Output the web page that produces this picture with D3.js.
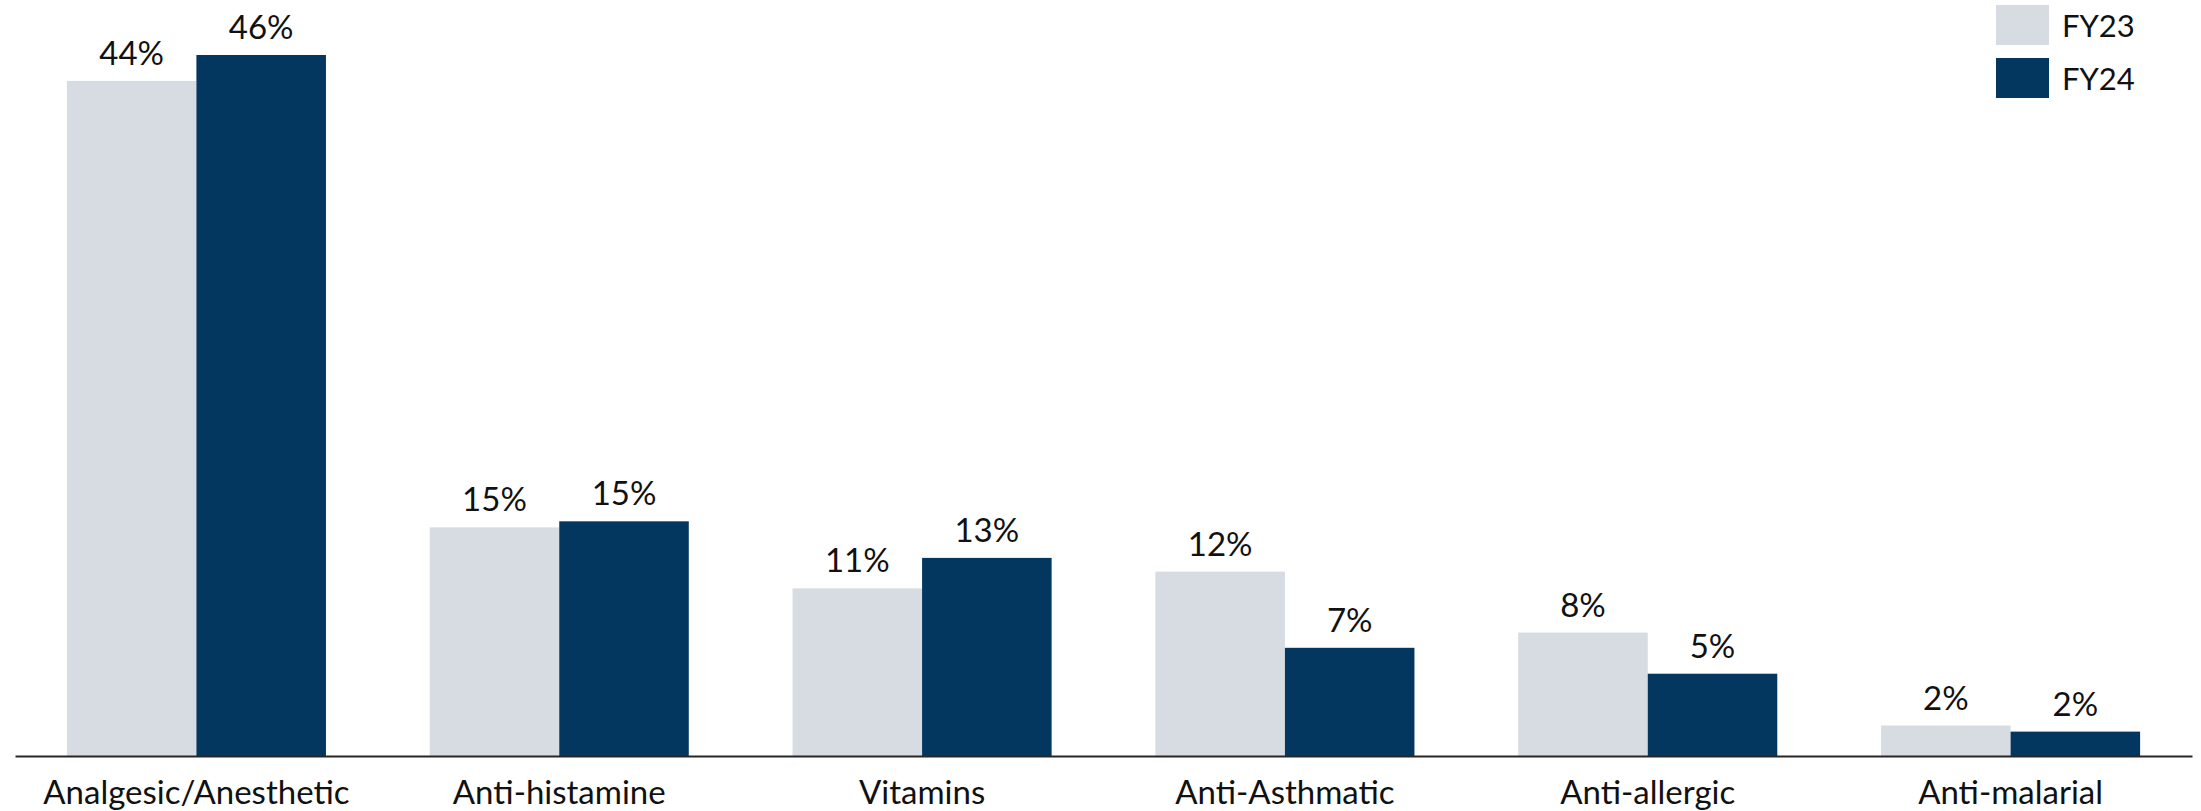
<!DOCTYPE html>
<html>
<head>
<meta charset="utf-8">
<script src="https://cdn.jsdelivr.net/npm/d3@7"></script>
<style>
  html, body { margin: 0; padding: 0; background: #fff; }
  svg { display: block; font-family: Lato, "Open Sans", sans-serif; }
</style>
</head>
<body>
<div id="chart"></div>
<script>
const categories = ['Analgesic/Anesthetic', 'Anti-histamine', 'Vitamins', 'Anti-Asthmatic', 'Anti-allergic', 'Anti-malarial'];
const seriesNames = ['FY23', 'FY24'];
const fy23 = [44.3, 15.0, 11.0, 12.1, 8.1, 2.0];
const fy24 = [46.0, 15.4, 13.0, 7.1, 5.4, 1.6];

const colors = { FY23: '#d6dce1', FY24: '#03375f' };

const width = 2201;
const height = 811;
const baseline = 756;

const data = categories.map((c, i) => ({ category: c, FY23: fy23[i], FY24: fy24[i] }));

const svg = d3.select('#chart')
  .append('svg')
  .attr('width', width)
  .attr('height', height);

const x0 = d3.scaleBand()
  .domain(categories)
  .range([15, 2192])
  .paddingInner(0.286)
  .paddingOuter(0.143);

const x1 = d3.scaleBand()
  .domain(seriesNames)
  .range([0, x0.bandwidth()]);

const y = d3.scaleLinear()
  .domain([0, 46])
  .range([baseline, 55]);

// bars
const groups = svg.append('g')
  .selectAll('g')
  .data(data)
  .join('g')
  .attr('transform', d => `translate(${x0(d.category)},0)`);

const cells = groups.selectAll('g')
  .data(d => seriesNames.map(s => ({ key: s, value: d[s] })))
  .join('g');

cells.append('rect')
  .attr('x', d => x1(d.key))
  .attr('y', d => y(d.value))
  .attr('width', x1.bandwidth())
  .attr('height', d => baseline - y(d.value))
  .attr('fill', d => colors[d.key]);

cells.append('text')
  .attr('x', d => x1(d.key) + x1.bandwidth() / 2)
  .attr('y', d => y(d.value) - 16)
  .attr('text-anchor', 'middle')
  .attr('fill', '#111')
  .style('font-size', '33px')
  .text(d => Math.round(d.value) + '%');

// x axis
const xAxis = svg.append('g')
  .attr('transform', `translate(0,${baseline})`)
  .call(d3.axisBottom(x0).tickSize(0).tickSizeOuter(0));

xAxis.select('.domain')
  .attr('stroke', '#262626')
  .attr('stroke-width', 2);

xAxis.selectAll('text')
  .attr('y', 48)
  .attr('dy', null)
  .attr('fill', '#111')
  .style('font-family', 'Lato, "Open Sans", sans-serif')
  .style('font-size', '33px');

// legend
const legend = svg.append('g')
  .selectAll('g')
  .data(seriesNames)
  .join('g')
  .attr('transform', (d, i) => `translate(1996,${5 + i * 53})`);

legend.append('rect')
  .attr('width', 53)
  .attr('height', 40)
  .attr('fill', d => colors[d]);

legend.append('text')
  .attr('x', 66)
  .attr('y', 32)
  .attr('fill', '#111')
  .style('font-size', '31px')
  .text(d => d);
</script>
</body>
</html>
